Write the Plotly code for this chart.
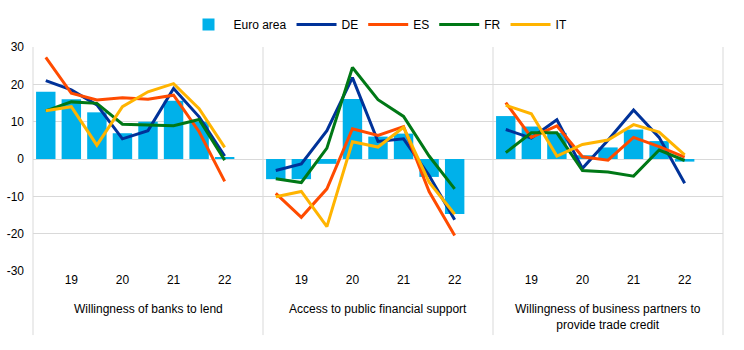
import plotly.graph_objects as go

# Survey rounds per panel (8 periods, labels shown every second period)
tick_pos = [1, 3, 5, 7]
tick_labels = ["19", "20", "21", "22"]

# Value axis ticks (plain hyphen for negatives)
y_ticks = [-30, -20, -10, 0, 10, 20, 30]
y_tick_labels = ["-30", "-20", "-10", "0", "10", "20", "30"]

panel_titles = [
    "Willingness of banks to lend",
    "Access to public financial support",
    "Willingness of business partners to<br>provide trade credit",
]

# Net percentages of firms, one list per panel
euro_area = [
    [18.0, 16.0, 12.5, 6.9, 10.0, 15.6, 10.0, 0.3],
    [-5.4, -5.4, -1.3, 16.1, 6.0, 6.8, -4.8, -14.7],
    [11.5, 8.7, 7.0, 1.0, 3.1, 7.9, 4.8, -0.7],
]
de = [
    [21.0, 18.5, 14.5, 5.4, 7.6, 18.9, 11.3, 0.8],
    [-3.1, -1.3, 7.6, 21.8, 4.7, 5.4, -4.4, -16.3],
    [7.9, 5.6, 10.5, -2.5, 5.0, 13.1, 5.8, -6.5],
]
es = [
    [27.2, 17.6, 15.8, 16.4, 16.0, 17.1, 7.3, -6.0],
    [-9.2, -15.6, -8.0, 8.1, 6.3, 8.7, -8.7, -20.5],
    [15.1, 5.8, 8.9, 0.6, -0.3, 5.8, 3.3, 0.5],
]
fr = [
    [12.9, 15.3, 14.9, 9.3, 9.1, 8.9, 10.6, -0.3],
    [-5.3, -6.3, 2.9, 24.5, 15.9, 11.4, 0.8, -8.0],
    [1.7, 7.0, 7.0, -3.1, -3.5, -4.6, 2.4, -0.4],
]
it = [
    [12.9, 14.0, 3.7, 14.0, 18.0, 20.2, 13.5, 3.1],
    [-10.1, -8.7, -18.1, 4.6, 3.2, 8.5, -6.2, -14.8],
    [14.4, 12.1, 0.8, 3.9, 5.1, 9.2, 7.2, 1.1],
]

countries = [
    ("DE", de, "#003299"),
    ("ES", es, "#FF4B00"),
    ("FR", fr, "#007816"),
    ("IT", it, "#FFB400"),
]
bar_color = "#00B1EA"
font_family = "Arial, Liberation Sans, sans-serif"

fig = go.Figure()
for p in range(3):
    xa = "x" if p == 0 else f"x{p + 1}"
    xs = list(range(len(euro_area[p])))
    fig.add_trace(go.Bar(
        x=xs, y=euro_area[p], xaxis=xa, yaxis="y",
        marker=dict(color=bar_color, line=dict(width=0)),
        name="Euro area", legendgroup="ea", showlegend=(p == 0),
    ))
    for name, vals, col in countries:
        fig.add_trace(go.Scatter(
            x=xs, y=vals[p], xaxis=xa, yaxis="y", mode="lines",
            line=dict(color=col, width=3),
            name=name, legendgroup=name, showlegend=(p == 0),
        ))

layout = dict(
    width=744, height=350,
    margin=dict(l=33, r=21, t=47, b=79, autoexpand=False),
    paper_bgcolor="white", plot_bgcolor="white",
    font=dict(family=font_family, size=12, color="#000000"),
    bargap=0.24,
    showlegend=True,
    legend=dict(orientation="h", x=0.5, xanchor="center", y=1.1,
                yanchor="middle", font=dict(size=12), traceorder="normal",
                itemwidth=40),
    yaxis=dict(range=[-30, 30], tickmode="array", tickvals=y_ticks,
               ticktext=y_tick_labels, showgrid=True, gridcolor="#d9d9d9",
               gridwidth=1, zeroline=False, showline=False, ticks="",
               automargin=False, ticklabelstandoff=8,
               tickfont=dict(size=12)),
)
for p in range(3):
    key = "xaxis" if p == 0 else f"xaxis{p + 1}"
    layout[key] = dict(
        domain=[p / 3, (p + 1) / 3], anchor="y", range=[-0.5, 8.5],
        tickmode="array", tickvals=tick_pos, ticktext=tick_labels,
        showgrid=False, zeroline=False, showline=False, ticks="",
        automargin=False, tickfont=dict(size=12),
    )
fig.update_layout(**layout)

# Panel separators extending below the plot area
for xb in [0, 1 / 3, 2 / 3, 1]:
    fig.add_shape(type="line", xref="paper", yref="paper", x0=xb, x1=xb,
                  y0=-0.286, y1=1, line=dict(color="#d9d9d9", width=1))

for p, title in enumerate(panel_titles):
    fig.add_annotation(text=title, xref="paper", yref="paper",
                       x=(p + 0.5) / 3, y=-0.13, xanchor="center",
                       yanchor="top", showarrow=False,
                       font=dict(size=12, color="#000000"))

fig.write_html("out.html")
